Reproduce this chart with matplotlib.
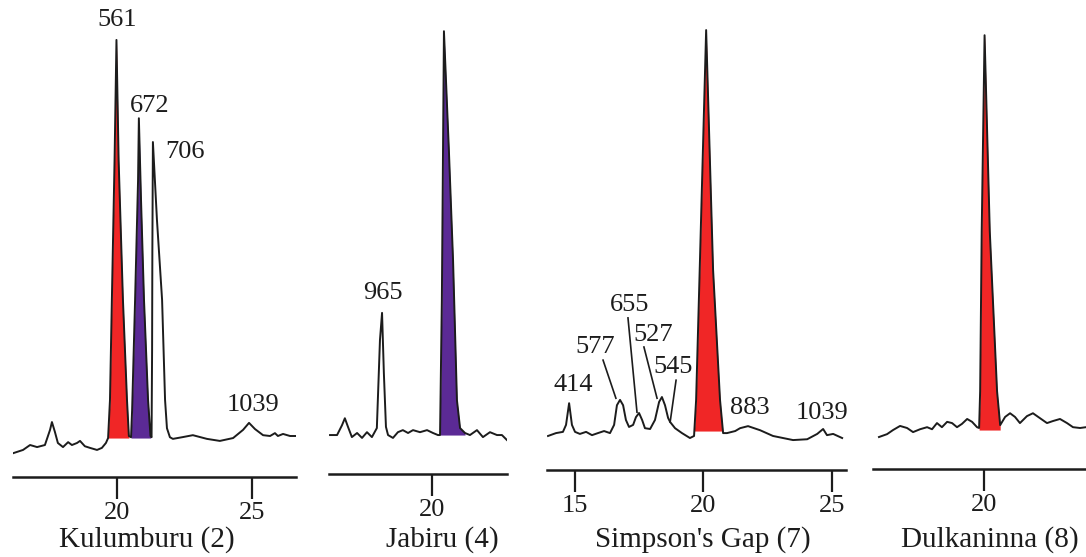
import matplotlib
matplotlib.use('Agg')
import matplotlib.pyplot as plt
import matplotlib.transforms as mtransforms
import numpy as np

plt.rcParams['font.family'] = ['Liberation Serif', 'DejaVu Serif']

# retention time (min) and detector response (relative units, baseline ~ 0)
kul_time = [16.15, 16.52, 16.78, 17.04, 17.33, 17.52, 17.59, 17.70, 17.81, 18.00,
            18.19, 18.33, 18.52, 18.63, 18.81, 19.00, 19.26, 19.44, 19.59,
            19.67, 19.74, 19.81, 19.91, 19.98, 20.06, 20.22, 20.37, 20.44,
            20.52, 20.56, 20.67, 20.78, 20.81, 20.89, 21.00, 21.15, 21.24,
            21.28, 21.30, 21.31, 21.33, 21.48, 21.67, 21.78, 21.85, 21.96,
            22.07, 22.41, 22.81, 23.33, 23.81, 24.30, 24.67, 24.89, 25.11,
            25.41, 25.67, 25.85, 25.96, 26.15, 26.41, 26.63]
kul_sig = [-3.7, -2.9, -1.7, -2.2, -1.7, 2.0, 3.9, 1.5, -1.2, -2.2,
           -1.0, -1.7, -1.2, -0.7, -2.0, -2.4, -2.9, -2.4, -1.2,
           0.0, 9.3, 33.7, 67.8, 97.1, 67.8, 33.7, 9.3, 0.5,
           0.2, 6.8, 33.7, 62.9, 78.0, 58.0, 33.7, 9.3, 0.5,
           0.2, 21.5, 45.9, 72.2, 53.2, 33.7, 9.3, 2.4, 0.2,
           -0.2, 0.2, 0.7, -0.2, -0.7, 0.0, 2.0, 3.7, 2.2,
           0.7, 0.5, 1.2, 0.5, 1.0, 0.5, 0.5]

jab_time = [16.08, 16.35, 16.54, 16.65, 16.77, 16.92, 17.12, 17.31, 17.50, 17.69,
            17.88, 18.00, 18.08, 18.15, 18.23, 18.31, 18.50, 18.69, 18.88, 19.08,
            19.27, 19.54, 19.81, 20.04, 20.23, 20.31, 20.38, 20.46, 20.65, 20.81,
            20.96, 21.08, 21.27, 21.46, 21.73, 21.96, 22.23, 22.50, 22.69, 22.88]
jab_sig = [0.0, 0.0, 2.4, 4.1, 2.0, -0.5, 0.5, -0.7, 0.7, -0.5,
           1.7, 23.2, 29.8, 15.1, 2.0, 0.0, -0.7, 0.7, 1.2, 0.5,
           1.2, 0.7, 1.2, 0.5, 0.0, 0.0, 32.9, 98.5, 69.5, 42.7,
           8.5, 1.7, 0.5, 0.0, 1.2, -0.5, 0.7, 0.0, 0.0, -1.2]

sim_time = [13.97, 14.28, 14.55, 14.67, 14.79, 14.90, 15.02, 15.21, 15.45, 15.68,
            15.91, 16.15, 16.38, 16.54, 16.65, 16.77, 16.89, 17.00, 17.12, 17.28,
            17.39, 17.51, 17.63, 17.74, 17.94, 18.13, 18.29, 18.40, 18.52, 18.64,
            18.72, 18.91, 19.18, 19.49, 19.65, 19.73, 19.88, 20.12, 20.39, 20.66,
            20.78, 20.93, 21.25, 21.44, 21.75, 22.22, 22.72, 23.50, 24.05, 24.44,
            24.67, 24.82, 25.06, 25.41]
sim_sig = [-1.2, -0.5, -0.2, 1.5, 6.8, 1.5, -0.2, -0.7, -0.2, -1.0,
           -0.5, 0.0, -0.5, 1.5, 6.3, 7.6, 6.3, 2.7, 1.0, 1.5,
           3.4, 4.4, 2.7, 0.7, 0.5, 2.7, 7.1, 8.3, 6.3, 3.2,
           2.2, 0.7, -0.5, -1.7, -1.2, 7.6, 41.7, 97.8, 39.3, 7.6,
           -0.5, -0.5, 0.0, 0.7, 1.2, 0.2, -1.2, -2.2, -2.0, -0.7,
           0.5, -1.0, -0.7, -1.7]

dul_time = [15.96, 16.27, 16.50, 16.77, 17.04, 17.27, 17.54, 17.81, 18.00, 18.19,
            18.38, 18.58, 18.77, 18.96, 19.15, 19.35, 19.54, 19.73, 19.81, 19.85,
            19.91, 20.02, 20.22, 20.50, 20.62, 20.81, 21.00, 21.19, 21.38, 21.65,
            21.88, 22.15, 22.42, 22.65, 22.92, 23.19, 23.42, 23.69, 23.92]
dul_sig = [-1.7, -1.0, 0.0, 1.0, 0.5, -0.5, 0.2, 0.7, 0.2, 1.7,
           0.7, 2.0, 1.7, 0.7, 1.5, 2.7, 2.0, 0.7, 0.5, 9.5,
           48.5, 96.3, 48.5, 9.5, 1.2, 3.2, 4.1, 3.2, 1.7, 3.4,
           4.1, 2.9, 1.7, 2.2, 2.7, 1.7, 0.7, 0.5, 0.7]

# shaded peaks: (start, end, colour key)
kul_fills = [(19.67, 20.44, 'red'), (20.52, 21.24, 'purple')]
jab_fills = [(20.31, 21.27, 'purple')]
sim_fills = [(19.65, 20.78, 'red')]
dul_fills = [(19.81, 20.62, 'red')]

# peak labels: (text, time, response)
kul_labels = [('561', 20.0, 102), ('672', 21.22, 81), ('706', 22.52, 69.8),
              ('1039', 25.04, 8.0)]
jab_labels = [('965', 18.12, 34.6)]
sim_labels = [('414', 14.94, 11.2), ('577', 15.80, 20.5), ('655', 17.16, 30.7),
              ('527', 18.05, 23.4), ('545', 18.83, 15.6), ('883', 21.83, 5.6),
              ('1039', 24.63, 4.4)]
dul_labels = []
sim_leaders = [((16.11, 17.3), (16.61, 8.0)), ((17.08, 27.6), (17.43, 4.6)),
               ((17.70, 20.5), (18.21, 8.0)), ((18.95, 12.4), (18.72, 2.2))]

titles = ['Kulumburu (2)', 'Jabiru (4)', "Simpson's Gap (7)", 'Dulkaninna (8)']
title_time = [21.11, 20.38, 20.0, 20.23]
ticks = [[20, 25], [20], [15, 20, 25], [20]]

colors = {'red': '#F02626', 'purple': '#5B2A95'}

W, H = 1086, 557
fig = plt.figure(figsize=(W / 100, H / 100), dpi=100)
fig.patch.set_facecolor('white')

YLIM = (-9.5, 106)
PX_PER_UNIT = 4.1
ax_h = (YLIM[1] - YLIM[0]) * PX_PER_UNIT

# pixel layout of each panel: left, right, axis-line y, x-limits
layout = [
    (13, 296, 477, (16.148, 26.63)),
    (329, 507, 474, (16.04, 22.885)),
    (547, 846, 470, (13.93, 25.56)),
    (873, 1086, 469, (15.73, 23.92)),
]

panels = [
    (kul_time, kul_sig, kul_fills, kul_labels, []),
    (jab_time, jab_sig, jab_fills, jab_labels, []),
    (sim_time, sim_sig, sim_fills, sim_labels, sim_leaders),
    (dul_time, dul_sig, dul_fills, dul_labels, []),
]

for i, (t, s, fills, labels, leaders) in enumerate(panels):
    left, right, axis_y, xlim = layout[i]
    ax = fig.add_axes([left / W, (H - axis_y) / H, (right - left) / W, ax_h / H])
    ax.set_xlim(*xlim)
    ax.set_ylim(*YLIM)
    ax.patch.set_alpha(0)

    t = np.array(t)
    s = np.array(s)
    for a, b, c in fills:
        m = (t >= a) & (t <= b)
        ax.fill_between(t[m], s[m], 0, color=colors[c], lw=0, zorder=1)
    ax.plot(t, s, color='#1c1c1c', lw=1.4, zorder=2, solid_joinstyle='round')

    for txt, x, y in labels:
        ax.text(x, y, txt, ha='center', va='center', fontsize=19, color='#1c1c1c',
                clip_on=False)
    for (x0, y0), (x1, y1) in leaders:
        ax.plot([x0, x1], [y0, y1], color='#1c1c1c', lw=1.2)

    for sp in ('top', 'left', 'right'):
        ax.spines[sp].set_visible(False)
    ax.spines['bottom'].set_linewidth(1.8)
    ax.spines['bottom'].set_color('#1c1c1c')
    ax.set_yticks([])
    ax.set_xticks(ticks[i])
    ax.tick_params(axis='x', direction='out', length=16, width=1.6, pad=2,
                   labelsize=19, colors='#1c1c1c')

    trans = mtransforms.blended_transform_factory(ax.transData, fig.transFigure)
    ax.text(title_time[i], (H - 540) / H, titles[i], transform=trans,
            ha='center', va='center', fontsize=21, color='#1c1c1c', clip_on=False)

fig.savefig('out.png', dpi=100, facecolor='white')
